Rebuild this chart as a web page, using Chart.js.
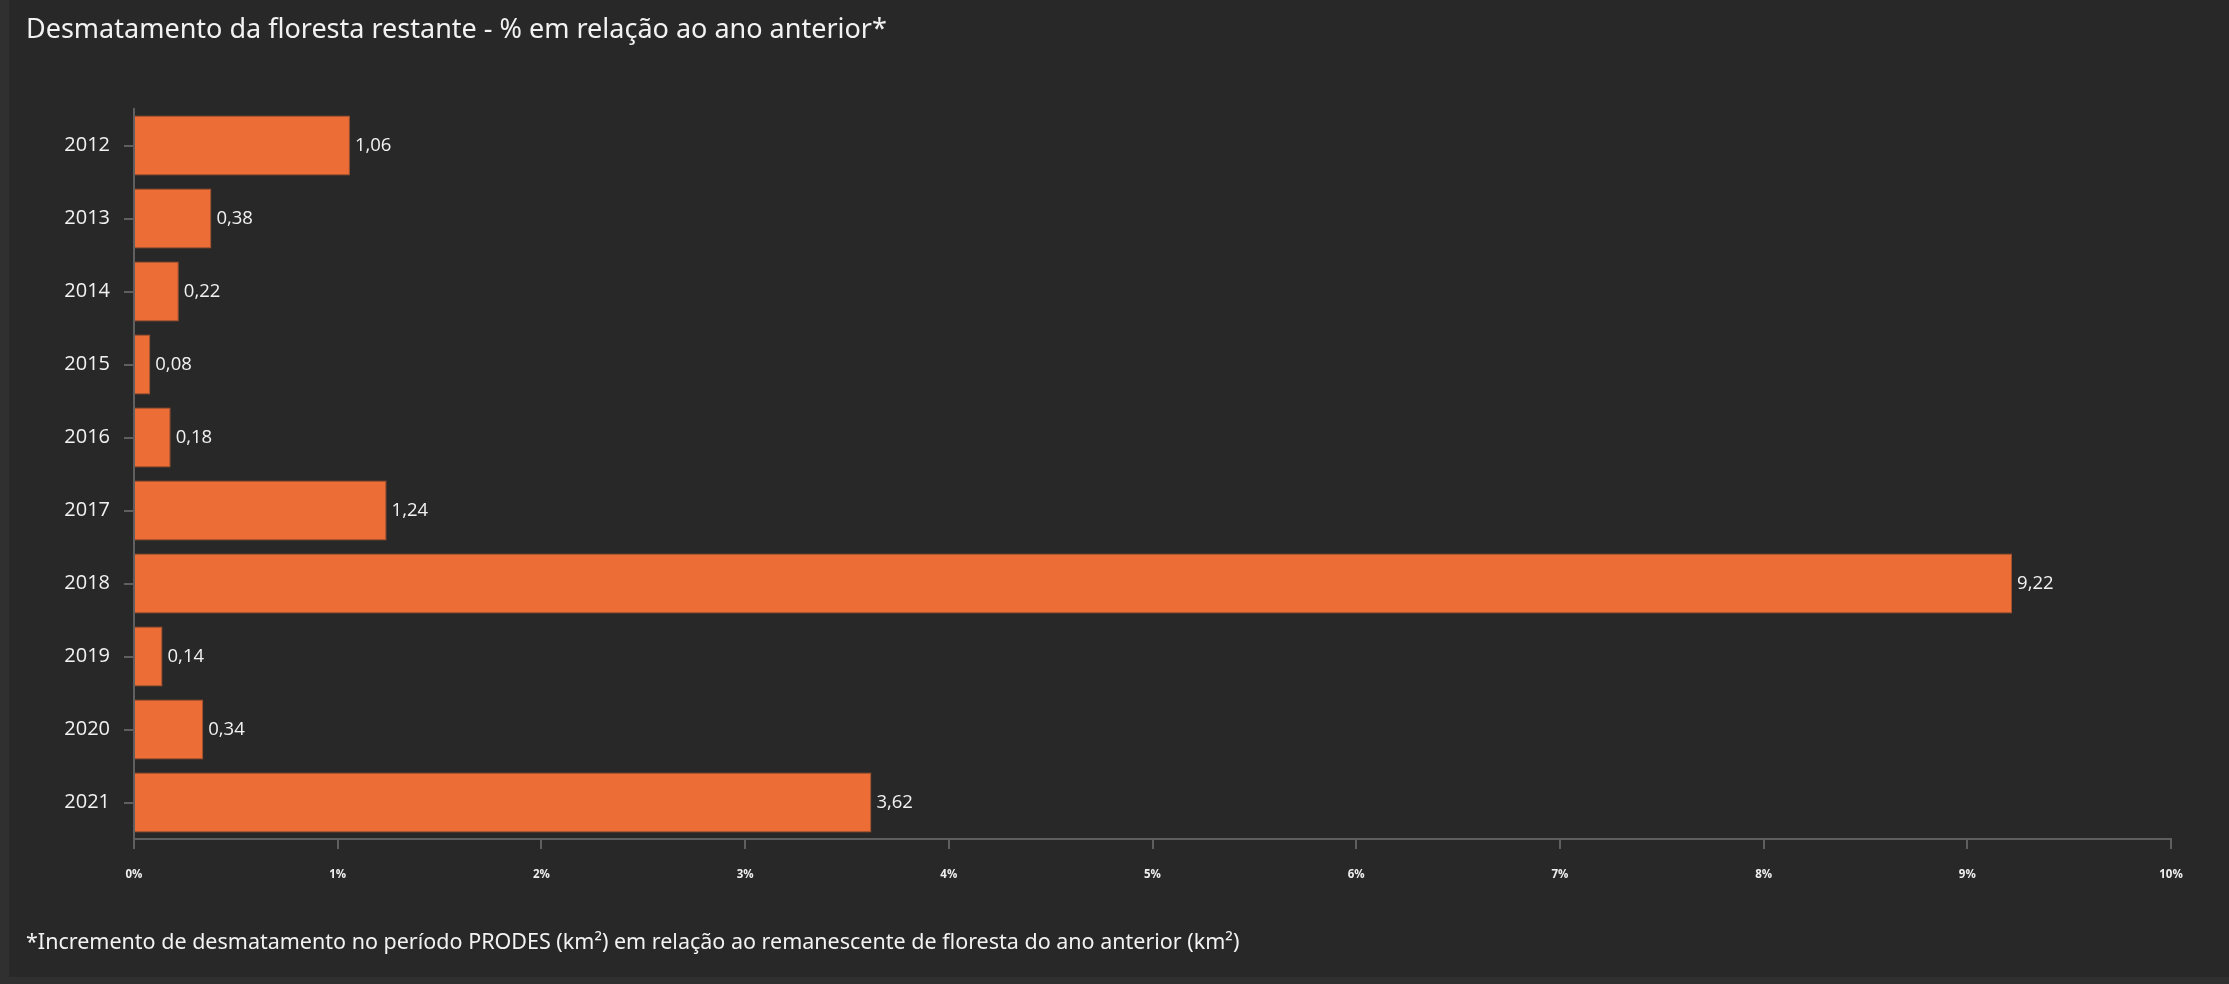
<!DOCTYPE html>
<html>
<head>
<meta charset="utf-8">
<script src="https://cdn.jsdelivr.net/npm/chart.js@4.4.0/dist/chart.umd.min.js"></script>
<style>
  html, body { margin: 0; padding: 0; background: #303030; }
  #panel { position: absolute; left: 9px; top: 0; width: 2220px; height: 977px; background: #282828; }
  #wrap { position: absolute; left: 0; top: 0; width: 2229px; height: 984px; }
  .txt { position: absolute; color: #f2f2f2; font-family: "Noto Sans", "Open Sans", sans-serif; white-space: nowrap; }
  #title { left: 26px; top: 9px; font-size: 27px; }
  #note { left: 26px; top: 926px; font-size: 21.5px; }
</style>
</head>
<body>
<div id="panel"></div>
<div id="wrap"><canvas id="graph"></canvas></div>
<div class="txt" id="title">Desmatamento da floresta restante - % em relação ao ano anterior*</div>
<div class="txt" id="note">*Incremento de desmatamento no período PRODES (km²) em relação ao remanescente de floresta do ano anterior (km²)</div>
<script>
var years = ["2012","2013","2014","2015","2016","2017","2018","2019","2020","2021"];
var percentValues = [1.06, 0.38, 0.22, 0.08, 0.18, 1.24, 9.22, 0.14, 0.34, 3.62];
var tickValues = [0, 1, 2, 3, 4, 5, 6, 7, 8, 9, 10];

var axisGray = "#5f5f5f";

// value labels at the end of each bar
var barLabels = {
  id: "barLabels",
  afterDatasetsDraw: function(chart) {
    var ctx = chart.ctx;
    var meta = chart.getDatasetMeta(0);
    ctx.save();
    ctx.fillStyle = "#f2f2f2";
    ctx.font = "18.5px 'Open Sans', 'Noto Sans', sans-serif";
    ctx.textBaseline = "middle";
    ctx.textAlign = "left";
    meta.data.forEach(function(bar, i) {
      ctx.fillText(percentValues[i].toFixed(2).replace(".", ","), bar.x + 5, bar.y);
    });
    ctx.restore();
  }
};

var canvas = document.getElementById("graph").getContext("2d");
var barChart = new Chart(canvas, {
  type: "bar",
  data: {
    labels: years,
    datasets: [{
      data: percentValues,
      backgroundColor: "#ed6d37",
      borderColor: "#a9552f",
      borderWidth: 1,
      borderSkipped: "left",
      barPercentage: 0.82,
      categoryPercentage: 1.0
    }]
  },
  options: {
    indexAxis: "y",
    responsive: true,
    maintainAspectRatio: false,
    animation: false,
    layout: { padding: { top: 109, right: 58, bottom: 100, left: 0 } },
    plugins: {
      legend: { display: false },
      tooltip: { enabled: false }
    },
    scales: {
      x: {
        min: 0,
        max: 10,
        afterBuildTicks: function(scale) {
          scale.ticks = tickValues.map(function(v) { return { value: v }; });
        },
        afterFit: function(scale) { scale.height = 45; },
        grid: { drawOnChartArea: false, color: axisGray, tickLength: 10, lineWidth: 2 },
        border: { color: axisGray, width: 2 },
        ticks: {
          color: "#eeeeee",
          padding: 19,
          maxRotation: 0,
          font: { family: "'Open Sans', sans-serif", size: 11.5, weight: "bold" },
          callback: function(v) { return v + "%"; }
        }
      },
      y: {
        afterFit: function(scale) { scale.width = 134; },
        grid: { drawOnChartArea: false, offset: false, color: axisGray, tickLength: 10, lineWidth: 2 },
        border: { color: axisGray, width: 2 },
        ticks: {
          color: "#f2f2f2",
          padding: 14,
          font: { family: "'Open Sans', sans-serif", size: 20 }
        }
      }
    }
  },
  plugins: [barLabels]
});
</script>
</body>
</html>
